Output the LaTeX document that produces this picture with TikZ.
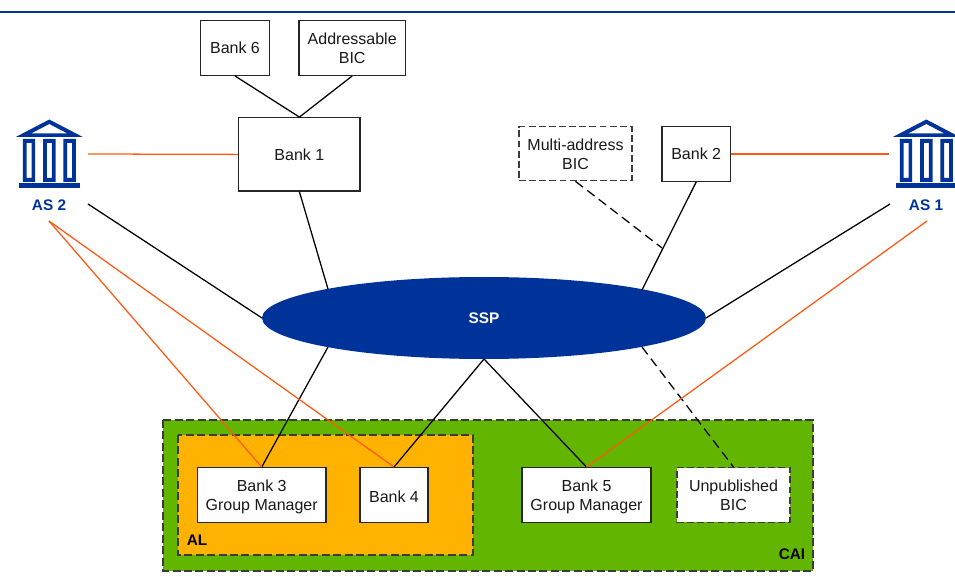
\documentclass[tikz,border=0pt]{standalone}
\usepackage{fontspec}
\usetikzlibrary{shapes.geometric}
\setmainfont{Liberation Sans}
\definecolor{ssblue}{RGB}{0,51,153}
\definecolor{caigreen}{RGB}{98,181,0}
\definecolor{alorange}{RGB}{255,179,0}
\definecolor{linkorange}{RGB}{255,90,20}
\definecolor{dashgray}{RGB}{60,60,60}
\newcommand{\twolines}[3]{\begin{tabular}{@{}c@{}}\rule{0pt}{#1}#2\\#3\end{tabular}}
\renewcommand{\arraystretch}{1}
\setlength{\tabcolsep}{0pt}
\tikzset{
  lab/.style={font=\fontsize{12}{14.25}\selectfont,align=center,text=black!90},
  solidbox/.style={lab,draw=black!85,line width=1pt,fill=white,minimum width=#1,inner sep=0pt},
  dashbox/.style={lab,draw=dashgray,line width=1pt,dash pattern=on 5.2pt off 2.4pt,fill=white,minimum width=#1,inner sep=0pt},
  nudge/.style={execute at begin node={\rule{0pt}{#1}}},
  link/.style={draw=black,line width=0.95pt},
  dashlink/.style={draw=black,line width=0.95pt,dash pattern=on 7pt off 4pt},
  olink/.style={draw=linkorange,line width=0.95pt},
  area/.style={draw=dashgray,line width=0.8pt,dash pattern=on 6pt off 2.6pt},
  tag/.style={font=\fontsize{11.5}{14}\selectfont\bfseries,inner sep=0pt},
  astag/.style={font=\fontsize{11.5}{14}\selectfont\bfseries,text=ssblue,inner sep=0pt},
  bank/.pic={
    \fill[ssblue,even odd rule] (-33.5,17.5) -- (0,0) -- (33.5,17.5) -- cycle (-18.3,14) -- (0,4.5) -- (18.3,14) -- cycle;
    \foreach \cx in {-20.3,0,20.3}{
      \fill[ssblue,even odd rule] (\cx-6.2,19.5) rectangle (\cx+6.2,62.5) (\cx-2.5,23.5) rectangle (\cx+2.5,58.5);
    }
    \fill[ssblue] (-30.5,64) rectangle (30.5,68.2);
  }
}
\begin{document}
\begin{tikzpicture}[x=0.75pt,y=-0.75pt]
\useasboundingbox (0,0) rectangle (955,580);
\draw[ssblue,line width=1.3pt] (0,12) -- (955,12);
% areas
\path[area,fill=caigreen,preaction={draw=white,solid}] (163,420) rectangle (813,571);
\path[area,fill=alorange] (178,435) rectangle (473,555);
% icons
\pic at (49.3,119.5) {bank};
\pic at (926.3,119.5) {bank};
\node[astag] (as2) at (49,205) {AS 2};
\node[astag] (as1) at (926,205) {AS 1};
\node[tag] (al) at (197,540) {AL};
\node[tag] (cai) at (792,554) {CAI};
% ssp
\node[ellipse,fill=ssblue,minimum width=444*0.75pt,minimum height=82*0.75pt,inner sep=0pt,font=\fontsize{11.5}{14}\selectfont\bfseries,text=white] (ssp) at (484,318) {SSP};
% coordinates for connector ends
\coordinate (as2o) at (88,154);
\coordinate (as1o) at (888.5,154);
\coordinate (as2k) at (88,204);
\coordinate (as1k) at (890,204);
\coordinate (as2d) at (49,221);
\coordinate (as1d) at (927,221);
\coordinate (sspl) at (262,318);
\coordinate (sspr) at (706,318);
\coordinate (sspa) at (328,289);
\coordinate (sspb) at (642,290);
\coordinate (sspc) at (328,347);
\coordinate (sspd) at (484,359);
\coordinate (sspe) at (642,347);
\coordinate (tee) at (662,248);
% boxes
\node[solidbox=68.6*0.75pt,minimum height=54.6*0.75pt] (b6) at (235,48) {Bank 6};
\node[solidbox=106.3*0.75pt,minimum height=54.6*0.75pt] (ab) at (352.2,48) {Addressable\\BIC};
\node[solidbox=121.3*0.75pt,minimum height=73.3*0.75pt] (b1) at (299.4,154.4) {Bank 1};
\node[dashbox=113*0.75pt,minimum height=54*0.75pt] (mb) at (575.5,153.7) {\twolines{14pt}{Multi-address}{BIC}};
\node[solidbox=68.3*0.75pt,minimum height=54.6*0.75pt] (b2) at (696.2,154) {Bank 2};
\node[solidbox=128.7*0.75pt,minimum height=54.6*0.75pt] (b3) at (261.7,495) {\twolines{13pt}{Bank 3}{Group Manager}};
\node[solidbox=68*0.75pt,minimum height=54.6*0.75pt,nudge=11pt] (b4) at (394,495) {Bank 4};
\node[solidbox=128.7*0.75pt,minimum height=54.6*0.75pt] (b5) at (586.5,495) {\twolines{13pt}{Bank 5}{Group Manager}};
\node[dashbox=113*0.75pt,minimum height=54.6*0.75pt] (ub) at (733.5,495) {\twolines{14pt}{Unpublished}{BIC}};
% connectors
\draw[link] (b6.south) -- (b1.north);
\draw[link] (ab.south) -- (b1.north);
\draw[olink] (as2o) -- (b1.west);
\draw[olink] (b2.east) -- (as1o);
\draw[link] (as2k) -- (sspl);
\draw[link] (as1k) -- (sspr);
\draw[link] (b1.south) -- (sspa);
\draw[link] (b2.south) -- (sspb);
\draw[dashlink] (mb.south) -- (tee);
\draw[link] (sspc) -- (b3.north);
\draw[link] (sspd) -- (b4.north);
\draw[link] (sspd) -- (b5.north);
\draw[dashlink] (sspe) -- (ub.north);
\draw[olink] (as2d) -- (b3.north);
\draw[olink] (as2d) -- (b4.north);
\draw[olink] (as1d) -- (b5.north);
\end{tikzpicture}
\end{document}
